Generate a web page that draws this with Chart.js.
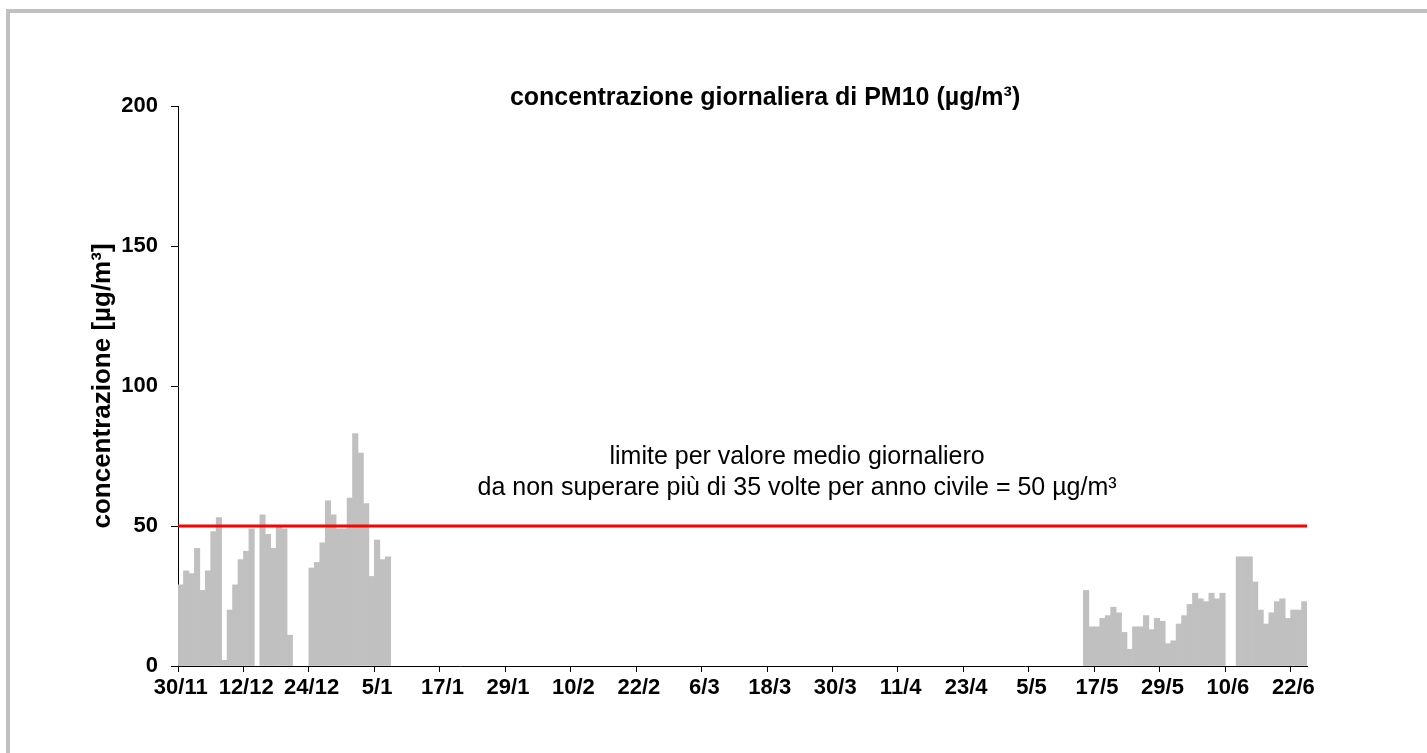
<!DOCTYPE html>
<html lang="it">
<head>
<meta charset="utf-8">
<title>PM10 - concentrazione giornaliera</title>
<script src="https://cdn.jsdelivr.net/npm/chart.js@4.4.1/dist/chart.umd.min.js"></script>
<style>
    html, body { margin: 0; padding: 0; background: #fff; overflow: hidden; }
    #cornice {
        position: absolute; left: 6px; top: 9px; right: -20px; bottom: -20px;
        border: 4px solid #c0c0c0;
    }
    #wrap { position: absolute; left: 0; top: 0; width: 1427px; height: 753px; }
</style>
</head>
<body>
<div id="cornice"></div>
<div id="wrap"><canvas id="pm10Chart"></canvas></div>
<script>
// Periodo sull'asse: dal 30/11 al 24/6
const primoGiorno = '2010-11-30';
const ultimoGiorno = '2011-06-24';

// Inizio di ciascuna campagna di misura
const inizioCampagne = ['2010-11-30', '2010-12-24', '2011-05-15', '2011-06-12'];

// Valori giornalieri PM10 (µg/m³), null = dato mancante
const pm10Dicembre = [29, 34, 33, 42, 27, 34, 48, 53, 2, 20, 29, 38, 41, 49, null, 54, 47, 42, 50, 49, 11];
const pm10Gennaio = [35, 37, 44, 59, 54, 49, 49, 60, 83, 76, 58, 32, 45, 38, 39];
const pm10Maggio = [27, 14, 14, 17, 18, 21, 19, 12, 6, 14, 14, 18, 13, 17, 16, 8, 9, 15, 18, 22, 26, 24, 23, 26, 24, 26];
const pm10Giugno = [39, 39, 39, 30, 20, 15, 19, 23, 24, 17, 20, 20, 23];

// Etichette dell'asse x (una ogni 12 giorni)
const etichetteX = ['30/11', '12/12', '24/12', '5/1', '17/1', '29/1', '10/2', '22/2', '6/3', '18/3',
    '30/3', '11/4', '23/4', '5/5', '17/5', '29/5', '10/6', '22/6'];
const giorniTraEtichette = 12;

const limiteGiornaliero = 50;
const yTicks = [0, 50, 100, 150, 200];

const titolo = 'concentrazione giornaliera di PM10 (µg/m³)';
const titoloY = 'concentrazione [µg/m³]';
const nota = ['limite per valore medio giornaliero', 'da non superare più di 35 volte per anno civile = 50 µg/m³'];

const FONT = '"Liberation Sans", Arial, sans-serif';

const giorno = (iso) => Math.round((Date.parse(iso) - Date.parse(primoGiorno)) / 86400000);
const nGiorni = giorno(ultimoGiorno) + 1;

const campagne = [pm10Dicembre, pm10Gennaio, pm10Maggio, pm10Giugno];
const puntiPM10 = [];
campagne.forEach((valori, c) => {
    const start = giorno(inizioCampagne[c]);
    valori.forEach((v, i) => {
        if (v !== null) puntiPM10.push({ x: start + i, y: v });
    });
});

// tacche al bordo del giorno (asse x), etichette sotto il giorno stesso (asse xEtichette)
const tacche = etichetteX.map((_, i) => i * giorniTraEtichette - 0.5);
const posEtichette = etichetteX.map((_, i) => i * giorniTraEtichette);

const testiPlugin = {
    id: 'testi',
    afterDatasetsDraw(chart) {
        const { ctx, chartArea, scales } = chart;
        ctx.save();
        ctx.fillStyle = '#000';
        ctx.textAlign = 'center';
        ctx.textBaseline = 'middle';
        ctx.font = 'bold 25px ' + FONT;
        ctx.fillText(titolo, chartArea.left + chartArea.width * 0.52, chartArea.top - 8);
        ctx.font = '25px ' + FONT;
        const xNota = scales.x.getPixelForValue(113);
        const yNota = scales.y.getPixelForValue(74.7);
        nota.forEach((riga, i) => ctx.fillText(riga, xNota, yNota + i * 31));
        ctx.restore();
    }
};

document.addEventListener('DOMContentLoaded', () => {
    const ctx = document.getElementById('pm10Chart').getContext('2d');
    new Chart(ctx, {
        type: 'bar',
        data: {
            datasets: [
                {
                    type: 'line',
                    data: [{ x: -0.5, y: limiteGiornaliero }, { x: nGiorni - 0.5, y: limiteGiornaliero }],
                    borderColor: '#ff0000',
                    borderWidth: 3,
                    pointRadius: 0,
                    fill: false,
                    order: 0
                },
                {
                    data: puntiPM10,
                    backgroundColor: '#c0c0c0',
                    borderWidth: 0,
                    barPercentage: 1,
                    categoryPercentage: 1,
                    order: 1
                }
            ]
        },
        options: {
            responsive: true,
            maintainAspectRatio: false,
            animation: false,
            layout: { padding: { left: 0, right: 120, top: 106, bottom: 0 } },
            plugins: {
                legend: { display: false },
                tooltip: { enabled: false },
                title: { display: false }
            },
            scales: {
                x: {
                    type: 'linear',
                    offset: false,
                    bounds: 'data',
                    min: -0.5,
                    max: nGiorni - 0.5,
                    weight: 0,
                    afterBuildTicks: (scale) => { scale.ticks = tacche.map(v => ({ value: v })); },
                    afterFit: (scale) => { scale.height = 6; },
                    ticks: { display: false },
                    grid: {
                        offset: false,
                        drawOnChartArea: false,
                        tickLength: 6,
                        color: '#000'
                    },
                    border: { display: true, color: '#000', width: 1 }
                },
                xEtichette: {
                    type: 'linear',
                    position: 'bottom',
                    offset: false,
                    bounds: 'data',
                    min: -0.5,
                    max: nGiorni - 0.5,
                    weight: 1,
                    afterBuildTicks: (scale) => { scale.ticks = posEtichette.map(v => ({ value: v })); },
                    afterFit: (scale) => { scale.height = 81; },
                    ticks: {
                        autoSkip: false,
                        maxRotation: 0,
                        padding: 3,
                        color: '#000',
                        font: { family: FONT, size: 22, weight: 'bold' },
                        callback: (value) => etichetteX[posEtichette.indexOf(value)]
                    },
                    grid: { display: false, drawTicks: false },
                    border: { display: false }
                },
                y: {
                    min: 0,
                    max: 200,
                    afterBuildTicks: (scale) => { scale.ticks = yTicks.map(v => ({ value: v })); },
                    afterFit: (scale) => { scale.width = 178; },
                    ticks: {
                        padding: 13,
                        color: '#000',
                        font: { family: FONT, size: 22, weight: 'bold' }
                    },
                    grid: { drawOnChartArea: false, tickLength: 7, color: '#000' },
                    border: { display: true, color: '#000', width: 1 },
                    title: {
                        display: true,
                        text: titoloY,
                        color: '#000',
                        font: { family: FONT, size: 26, weight: 'bold' },
                        padding: { top: 87, bottom: 0 }
                    }
                }
            }
        },
        plugins: [testiPlugin]
    });
});
</script>
</body>
</html>
